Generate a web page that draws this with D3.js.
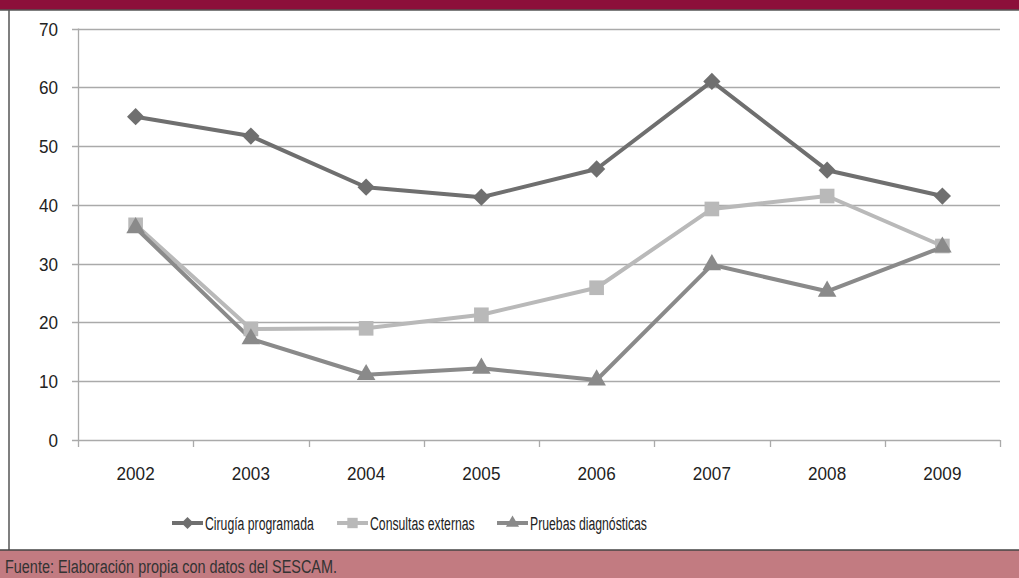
<!DOCTYPE html>
<html><head><meta charset="utf-8">
<script src="https://cdn.jsdelivr.net/npm/d3@7"></script>
<style>
body{margin:0;background:#fff;}
svg text{font-family:"Liberation Sans","Arial",sans-serif;}
</style></head><body>
<svg id="c" width="1019" height="578"></svg>
<script>
const years = ["2002","2003","2004","2005","2006","2007","2008","2009"];
const cirugia = [55.0, 51.7, 43.0, 41.3, 46.1, 61.0, 45.9, 41.5];
const consultas = [36.6, 18.9, 19.0, 21.3, 25.9, 39.3, 41.5, 33.0];
const pruebas = [36.1, 17.2, 11.1, 12.2, 10.2, 29.8, 25.3, 32.8];
const yTicks = [0,10,20,30,40,50,60,70];
const seriesNames = ["Cirugía programada","Consultas externas","Pruebas diagnósticas"];
const footer = "Fuente: Elaboración propia con datos del SESCAM.";

const series = [
  {name: seriesNames[0], values: cirugia, color: "#6f6f6f", sym: d3.symbolDiamond2, size: 190},
  {name: seriesNames[1], values: consultas, color: "#b9b9b9", sym: d3.symbolSquare, size: 215},
  {name: seriesNames[2], values: pruebas, color: "#8a8a8a", sym: d3.symbolTriangle, size: 150}
];

const svg = d3.select("#c");
function ntext(sel, x, y, txt, size, sx, anchor, fill){
  return sel.append("text").attr("transform",`translate(${x},${y}) scale(${sx},1)`)
    .attr("font-size",size).attr("text-anchor",anchor||"start").attr("fill",fill||"#222").text(txt);
}
// frame
svg.append("rect").attr("x",0).attr("y",0).attr("width",1019).attr("height",10).attr("fill","#8c0f3a");
svg.append("line").attr("x1",0).attr("x2",1019).attr("y1",10).attr("y2",10).attr("stroke","#555").attr("stroke-width",1.5);
svg.append("line").attr("x1",9).attr("x2",9).attr("y1",10).attr("y2",550).attr("stroke","#555").attr("stroke-width",1.5);
svg.append("rect").attr("x",0).attr("y",550).attr("width",1019).attr("height",28).attr("fill","#c27b81");
svg.append("line").attr("x1",0).attr("x2",1019).attr("y1",550).attr("y2",550).attr("stroke","#444").attr("stroke-width",1.5);
ntext(svg, 5, 573, footer, 19, 0.76, "start", "#333");

const x = d3.scaleBand().domain(years).range([78,1000]);
const y = d3.scaleLinear().domain([0,70]).range([440,28.5]);

const g = svg.append("g");
g.selectAll("line.grid").data(yTicks).join("line")
  .attr("x1",72).attr("x2",1000).attr("y1",d=>Math.round(y(d))+0.5).attr("y2",d=>Math.round(y(d))+0.5)
  .attr("stroke","#aaa").attr("stroke-width",1.3);
g.append("line").attr("x1",78.5).attr("x2",78.5).attr("y1",y(70)).attr("y2",y(0)).attr("stroke","#aaa").attr("stroke-width",1.3);
yTicks.forEach(d=>ntext(g, 58, y(d)+7, d, 19, 0.9, "end"));
const bounds = years.map(yr=>x(yr)).concat([x.range()[1]]);
g.selectAll("line.xt").data(bounds).join("line")
  .attr("x1",d=>Math.round(d)+0.5).attr("x2",d=>Math.round(d)+0.5).attr("y1",y(0)).attr("y2",y(0)+7)
  .attr("stroke","#aaa").attr("stroke-width",1.3);
years.forEach(d=>ntext(g, x(d)+x.bandwidth()/2, 480, d, 19, 0.9, "middle"));

const line = d3.line().x((d,i)=>x(years[i])+x.bandwidth()/2).y(d=>y(d));
series.forEach(s=>{
  g.append("path").datum(s.values).attr("d",line).attr("fill","none").attr("stroke",s.color).attr("stroke-width",4).attr("stroke-linejoin","round");
});
series.forEach(s=>{
  g.selectAll(null).data(s.values).join("path")
    .attr("transform",(d,i)=>`translate(${x(years[i])+x.bandwidth()/2},${y(d)})`)
    .attr("d",d3.symbol().type(s.sym).size(s.size)).attr("fill",s.color);
});

const legX = [172, 337, 497];
const leg = svg.append("g");
series.forEach((s,i)=>{
  const lx = legX[i];
  leg.append("line").attr("x1",lx).attr("x2",lx+31).attr("y1",523).attr("y2",523).attr("stroke",s.color).attr("stroke-width",4);
  leg.append("path").attr("transform",`translate(${lx+15.5},523)`).attr("d",d3.symbol().type(s.sym).size(s.size*0.5)).attr("fill",s.color);
  ntext(leg, lx+33, 530, s.name, 18, 0.68, "start");
});
</script>
</body></html>
